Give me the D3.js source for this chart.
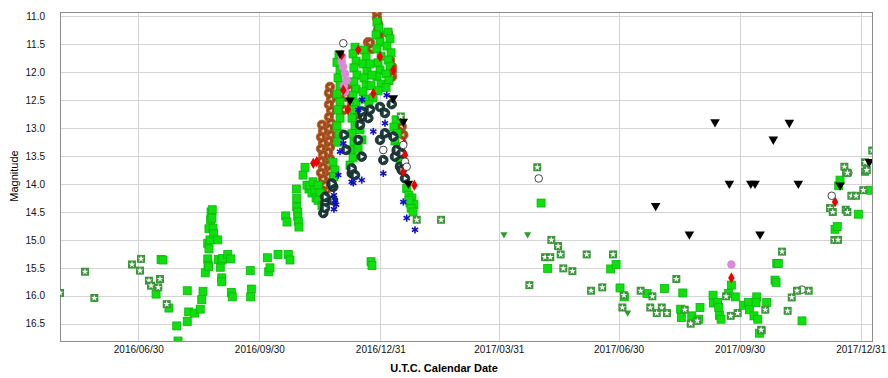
<!DOCTYPE html>
<html lang="en">
  <head>
    <meta charset="UTF-8" />
    <title>Light curve</title>
    <script src="https://d3js.org/d3.v7.min.js"></script>
    <style>
      body { margin: 0; background: #fff; }
      text { font-family: "Liberation Sans", Arial, sans-serif; }
      .grid { stroke: #d4d4d4; stroke-width: 1; }
      .frame { stroke: #8c8c8c; stroke-width: 1; fill: none; }
    </style>
  </head>
  <body>
    <script>
      // values are [JD - 2457000, magnitude]
      const greenFilled = [
        [583.0,15.97],[586.8,15.35],[588.3,15.36],[592.8,16.22],[598.7,16.54],[599.7,16.81],
        [606.7,15.91],[607.8,16.29],[606.7,16.46],[612.4,16.31],[616.6,16.24],[617.7,16.07],
        [618.7,15.92],[620.4,15.59],[622.3,15.34],[622.5,15.45],[623.0,15.48],[622.3,15.06],
        [623.2,15.16],[624.0,15.00],[623.2,14.80],[624.5,14.64],[624.8,14.50],[625.7,14.46],
        [625.5,14.61],[626.3,14.79],[626.8,14.89],[629.9,15.00],[630.3,15.35],[631.8,15.49],
        [633.1,15.36],[633.7,15.33],[632.9,15.68],[632.9,15.75],[637.5,15.26],[639.7,15.34],
        [640.2,15.94],[640.9,16.02],[654.6,15.55],[655.4,15.88],[654.9,16.02],[667.6,15.32],
        [668.6,15.57],[669.6,15.50],[675.7,15.26],[681.5,14.57],[682.5,14.68],[683.5,15.26],
        [684.8,15.36],[689.6,14.09],[689.9,14.26],[689.9,14.41],[690.7,14.50],[690.7,14.58],
        [691.1,14.67],[691.6,14.77],[699.2,14.09],
        [694.7,13.84],[696.2,13.70],[697.7,14.02],[700.0,14.03],[701.5,14.16],[702.3,13.96],
        [703.8,14.11],[704.6,14.25],[706.1,14.02],[707.6,14.16],[706.1,14.29],[709.1,14.38],
        [717.5,13.61],[719.0,13.75],[718.2,13.87],
        [722.0,11.69],[720.5,11.82],[722.8,11.96],[721.3,12.10],[722.8,12.24],[720.5,12.39],
        [722.8,12.53],[721.3,12.67],[722.8,12.82],[720.5,12.96],[722.0,13.10],[721.3,13.25],
        [734.2,11.55],[732.7,11.67],[735.0,11.80],[733.4,11.92],[735.7,12.05],[733.4,12.17],
        [735.0,12.30],[732.7,12.42],[735.0,12.55],[733.4,12.67],[731.9,12.82],[734.2,12.96],
        [731.9,13.10],[733.4,13.25],[731.2,13.39],[732.7,13.53],[730.4,13.66],
        [738.0,13.03],[739.5,13.21],[736.5,13.36],
        [741.0,11.60],[742.6,11.73],[740.3,11.85],[743.3,11.98],[741.0,12.10],[742.6,12.23],
        [740.3,12.35],[741.8,12.48],
        [750.9,11.10],[752.4,11.21],[750.2,11.33],[753.2,11.46],[750.9,11.58],[754.0,11.71],
        [751.7,11.83],[753.2,11.96],[750.9,12.08],[754.0,12.21],[751.7,12.33],[747.9,12.46],
        [746.4,12.24],[747.1,12.05],[745.6,11.85],[744.8,12.58],
        [759.3,11.28],[760.8,11.40],[758.5,11.53],[761.6,11.65],[759.3,11.78],[760.8,11.90],
        [757.8,12.03],[760.0,12.15],[757.8,12.27],
        [765.4,12.85],[763.8,12.98],[766.1,13.09],[764.6,13.23],[766.9,13.34],[765.4,13.48],
        [768.4,13.60],
        [773.5,14.08],[775.2,14.20],[777.5,14.25],[776.0,14.34],[779.0,14.37],[776.8,14.43],
        [778.3,14.50],[775.2,14.29],[746.4,15.39],[747.1,15.46],
        [875.6,14.34],[880.6,15.51],[928.5,15.52],[932.6,15.44],[935.6,15.86],[938.9,16.02],
        [956.1,15.96],[969.3,15.87],[983.3,15.95],[981.7,16.24],[982.2,16.39],[990.1,16.36],
        [996.4,16.21],[995.4,16.42],[1006.3,15.99],[1006.5,16.13],[1009.8,16.12],[1010.6,16.21],
        [1011.1,16.35],[1012.4,16.42],[1017.9,15.96],[1020.2,15.81],[1023.2,16.02],[1029.3,16.17],
        [1033.1,16.12],[1033.9,16.25],[1037.4,16.36],[1039.5,16.02],[1039.0,16.12],[1040.3,16.42],
        [1047.1,16.12],[1041.5,16.67],[1054.7,15.42],[1053.4,15.72],[1054.2,15.76],[1055.9,15.42],
        [1073.9,16.45],[1099.0,14.81],[1100.7,14.76],[1101.8,14.03],[1102.8,13.93],[1116.7,14.54],
        [1126.1,14.11]
      ];
      const greenOutlined = [
        [510.0,15.95],[529.0,15.57],[536.1,16.04],[564.7,15.44],[571.6,15.34],[570.8,15.55],
        [577.6,15.73],[579.2,15.82],[584.7,15.85],[586.0,15.70],[591.1,16.15],
        [769.0,12.79],[781.1,14.64],[799.6,14.64],
        [872.7,13.70],[883.4,15.00],[888.5,15.11],[878.6,15.31],[882.6,15.31],[890.5,15.26],
        [910.3,15.26],[930.3,15.26],[892.5,15.51],[899.4,15.56],[866.7,15.81],[913.6,15.91],
        [922.1,15.85],[938.6,15.99],[937.4,16.21],[951.3,15.91],[960.2,16.01],[958.6,16.21],
        [967.3,16.21],[963.5,16.31],[971.3,16.31],[978.4,15.70],[984.8,16.25],[989.3,16.50],
        [994.3,16.45],[1016.2,16.01],[1019.7,16.36],[1025.0,16.31],[1046.0,16.25],[1043.3,16.62],
        [1058.7,15.21],[1063.0,16.27],[1066.1,16.03],[1070.1,15.91],[1079.0,15.91],[1042.8,16.61],
        [1095.2,14.43],[1097.3,14.50],[1098.5,15.00],[1101.3,15.00],[1106.1,13.69],[1107.4,13.80],
        [1108.4,13.80],[1111.4,14.21],[1115.0,14.21],[1107.1,14.46],[1108.4,14.50],[1120.5,14.11],
        [1121.8,13.78],[1123.1,13.75],[1121.8,13.61],[1127.3,13.40]
      ];
      const brownCircles = [
        [715.2,12.26],[714.4,12.37],[716.0,12.48],[714.4,12.58],[716.0,12.69],[714.4,12.80],
        [716.0,12.91],[714.4,13.01],[716.0,13.12],[714.4,13.23],[715.2,13.34],[713.7,13.43],
        [715.2,13.55],[713.7,13.66],[715.2,13.77],[713.7,13.87],[714.4,13.98],[712.9,14.09],
        [709.1,12.94],[709.9,13.05],[708.4,13.16],[709.9,13.27],[708.4,13.37],[709.9,13.48],
        [708.4,13.59],[709.9,13.70],[708.4,13.80],[709.9,13.91],[711.4,14.02],
        [729.6,12.19],[730.4,12.32],[727.4,12.44],[731.9,12.57],[725.8,12.67],[736.5,12.73],
        [737.2,12.85],
        [750.9,10.94],[750.9,11.03],[751.7,11.13],[751.7,11.24],[752.4,11.35],
        [744.1,11.46],[744.8,11.55],[745.6,11.47],[747.1,11.58],
        [760.8,11.78],[762.3,11.90],[762.3,11.99],[762.3,12.08],[759.3,11.30],
        [769.7,12.97],[770.9,13.12]
      ];
      const tealCircles = [
        [711.4,14.34],[710.1,14.52],[717.7,14.05],[717.3,14.29],[716.5,13.99],[711.4,14.23],
        [711.4,14.43],[731.7,13.81],[734.2,13.84],[731.7,13.72],[739.3,13.51],[740.5,12.79],
        [744.3,12.82],[745.6,12.67],[739.3,12.70],[738.0,12.94],[736.5,13.21],[753.2,13.21],
        [755.7,13.57],[757.0,13.09],[753.2,12.62],[757.0,12.73],[762.1,12.57],[763.3,13.15],
        [764.6,13.51],[765.9,13.39],[768.4,13.69],[769.7,13.75],[769.7,13.45],[772.2,13.90],
        [725.8,13.12],[727.4,13.39]
      ];
      const redDiamonds = [
        [702.5,13.63],[705.1,13.60],[724.1,11.69],[736.7,11.60],[748.1,12.38],[753.2,11.72],
        [763.3,11.96],[772.2,13.48],[770.9,13.78],[771.7,13.27],[779.3,14.02],[725.3,12.32],
        [728.9,12.67],[1020.2,15.68],[1099.0,14.32]
      ];
      const openCircles = [
        [725.3,11.48],[755.7,13.39],[772.2,13.60],[770.9,13.30],[773.5,13.69],
        [873.8,13.90],[1073.9,15.89],[1096.5,14.21],[1109.1,13.80]
      ];
      const violetDots = [
        [724.3,11.72],[724.1,11.81],[725.1,11.90],[726.6,12.02],[727.9,12.14],[725.8,12.24],
        [726.6,12.35],[1020.2,15.44]
      ];
      const blueStars = [
        [721.5,13.84],[732.9,13.98],[739.3,13.93],[719.0,14.29],[718.2,14.20],[719.8,14.37],
        [718.2,14.45],[748.1,13.06],[755.7,13.81],[770.9,14.32],[773.5,14.61],[779.8,14.82],
        [725.3,13.27],[736.7,12.67],[758.3,12.41],[722.8,13.42],[731.7,13.96],[757.0,12.91],
        [739.5,12.49]
      ];
      const fainterBlack = [
        [722.8,11.66],[763.3,12.46],[774.7,13.99],[770.9,12.88],[730.4,12.50],
        [962.7,14.39],[988.3,14.90],[1007.8,12.89],[1018.7,13.99],[1035.0,13.99],[1038.2,13.99],
        [1042.0,14.90],[1052.1,13.20],[1064.3,12.90],[1071.1,13.99],[1102.8,14.02],[1125.1,13.60]
      ];
      const fainterGreen = [[847.4,14.90],[865.4,14.90],[941.4,16.30]];

      const magTicks = [11.0, 11.5, 12.0, 12.5, 13.0, 13.5, 14.0, 14.5, 15.0, 15.5, 16.0, 16.5];
      const dateTicks = ["2016/06/30", "2016/09/30", "2016/12/31", "2017/03/31",
                         "2017/06/30", "2017/09/30", "2017/12/31"];

      const width = 888, height = 378;
      const padL = 60, padR = 872, padT = 12, padB = 341;

      const jdToDate = jd => new Date((jd + 2457000 - 2440587.5) * 864e5);
      const parse = d3.utcParse("%Y/%m/%d");

      const x = d3.scaleUtc()
        .domain([jdToDate(510.0), jdToDate(1127.1)])
        .range([padL, padR]);
      const y = d3.scaleLinear()
        .domain([10.92, 16.81])
        .range([padT, padB]);

      const svg = d3.select("body")
        .append("svg")
        .attr("width", width)
        .attr("height", height);

      svg.append("defs").append("clipPath").attr("id", "plot")
        .append("rect")
        .attr("x", padL).attr("y", padT)
        .attr("width", padR - padL).attr("height", padB - padT);

      // grid
      svg.append("g").selectAll("line")
        .data(magTicks)
        .enter().append("line")
        .attr("class", "grid")
        .attr("x1", padL).attr("x2", padR)
        .attr("y1", d => Math.round(y(d)) + 0.5)
        .attr("y2", d => Math.round(y(d)) + 0.5);

      svg.append("g").selectAll("line")
        .data(dateTicks)
        .enter().append("line")
        .attr("class", "grid")
        .attr("y1", padT).attr("y2", padB)
        .attr("x1", d => Math.round(x(parse(d))) + 0.5)
        .attr("x2", d => Math.round(x(parse(d))) + 0.5);

      svg.append("rect")
        .attr("class", "frame")
        .attr("x", padL + 0.5).attr("y", padT + 0.5)
        .attr("width", padR - padL).attr("height", padB - padT);

      // axes (labels only)
      const yAxis = d3.axisLeft(y).tickValues(magTicks).tickFormat(d3.format(".1f"))
        .tickSize(0).tickPadding(15);
      svg.append("g")
        .attr("transform", `translate(${padL},0)`)
        .call(yAxis)
        .call(g => g.select(".domain").remove())
        .selectAll("text")
        .attr("font-size", 10)
        .attr("fill", "#111");

      const xAxis = d3.axisBottom(x).tickValues(dateTicks.map(parse))
        .tickFormat(d3.utcFormat("%Y/%m/%d"))
        .tickSize(0).tickPadding(5);
      svg.append("g")
        .attr("transform", `translate(0,${padB})`)
        .call(xAxis)
        .call(g => g.select(".domain").remove())
        .selectAll("text")
        .attr("font-size", 10)
        .attr("fill", "#111");

      svg.append("text")
        .attr("x", 444).attr("y", 372)
        .attr("text-anchor", "middle")
        .attr("font-size", 11)
        .attr("font-weight", "bold")
        .text("U.T.C. Calendar Date");

      svg.append("text")
        .attr("transform", "translate(18,176) rotate(-90)")
        .attr("text-anchor", "middle")
        .attr("font-size", 11)
        .text("Magnitude");

      const plot = svg.append("g").attr("clip-path", "url(#plot)");
      const px = d => x(jdToDate(d[0]));
      const py = d => y(d[1]);

      const tri = d3.symbol().type(d3.symbolTriangle);

      // brown circles with small light triangle
      const brown = plot.append("g").selectAll("g")
        .data(brownCircles).enter().append("g")
        .attr("transform", d => `translate(${px(d)},${py(d)})`);
      brown.append("circle").attr("r", 4.8).attr("fill", "#9c4a1c").attr("stroke", "#b8632e").attr("stroke-width", 0.8);
      brown.append("path").attr("d", tri.size(6)()).attr("transform", "rotate(-90)").attr("fill", "#e9c09a");

      // filled green squares
      plot.append("g").selectAll("rect")
        .data(greenFilled).enter().append("rect")
        .attr("x", d => px(d) - 4).attr("y", d => py(d) - 4)
        .attr("width", 8).attr("height", 8)
        .attr("fill", "#0ee00e").attr("stroke", "#06b806").attr("stroke-width", 0.8);

      // dark teal circles with small white triangle
      const teal = plot.append("g").selectAll("g")
        .data(tealCircles).enter().append("g")
        .attr("transform", d => `translate(${px(d)},${py(d)})`);
      teal.append("circle").attr("r", 4.8).attr("fill", "#1d3b3a").attr("stroke", "#0f2423").attr("stroke-width", 0.8);
      teal.append("path").attr("d", tri.size(8)()).attr("transform", "rotate(90)").attr("fill", "#fff");

      plot.append("g").selectAll("circle")
        .data(violetDots).enter().append("circle")
        .attr("cx", px).attr("cy", py).attr("r", 4.2)
        .attr("fill", "#dd88dd");

      // blue asterisks
      const star = plot.append("g").selectAll("g")
        .data(blueStars).enter().append("g")
        .attr("transform", d => `translate(${px(d)},${py(d)})`)
        .attr("stroke", "#1010c8").attr("stroke-width", 1.6);
      [0, 60, 120].forEach(a => {
        star.append("line").attr("x1", 0).attr("y1", -3.6).attr("x2", 0).attr("y2", 3.6)
          .attr("transform", `rotate(${a})`);
      });

      plot.append("g").selectAll("path")
        .data(redDiamonds).enter().append("path")
        .attr("d", d3.symbol().type(d3.symbolDiamond).size(36)())
        .attr("transform", d => `translate(${px(d)},${py(d)})`)
        .attr("fill", "#ee0000");

      plot.append("g").selectAll("circle")
        .data(openCircles).enter().append("circle")
        .attr("cx", px).attr("cy", py).attr("r", 3.8)
        .attr("fill", "#fff").attr("stroke", "#333").attr("stroke-width", 0.9);

      // outlined green squares with white star
      const outl = plot.append("g").selectAll("g")
        .data(greenOutlined).enter().append("g")
        .attr("transform", d => `translate(${px(d)},${py(d)})`);
      outl.append("rect").attr("x", -4).attr("y", -4).attr("width", 8).attr("height", 8)
        .attr("fill", "#3b963b");
      outl.append("path").attr("d", d3.symbol().type(d3.symbolStar).size(14)())
        .attr("fill", "#fff");

      plot.append("g").selectAll("path")
        .data(fainterBlack).enter().append("path")
        .attr("d", tri.size(40)())
        .attr("transform", d => `translate(${px(d)},${py(d)}) rotate(180)`)
        .attr("fill", "#000");

      plot.append("g").selectAll("path")
        .data(fainterGreen).enter().append("path")
        .attr("d", tri.size(22)())
        .attr("transform", d => `translate(${px(d)},${py(d)}) rotate(180)`)
        .attr("fill", "#2f9a2f");
    </script>
  </body>
</html>
